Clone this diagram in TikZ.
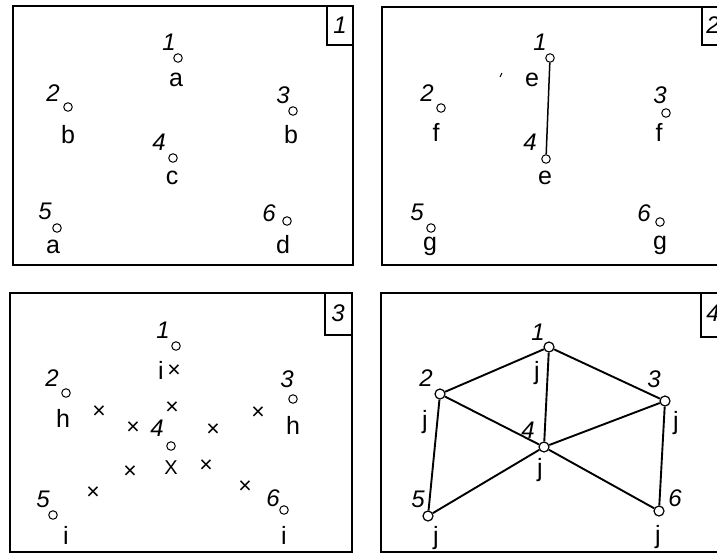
\documentclass[tikz,border=0pt]{standalone}
\usepackage{fontspec}
\setmainfont{Liberation Sans}
\newcommand\numfnt{\fontsize{24}{24}\selectfont\itshape}
\newcommand\lblfnt{\fontsize{25}{25}\selectfont}
\newcommand\crfnt{\fontsize{23}{23}\selectfont}
\tikzset{
  frame/.style={draw, line width=2.2pt},
  tagbox/.style={draw, line width=1.6pt},
  pt/.style={circle, draw, line width=1pt, inner sep=0pt, minimum size=8.5pt, fill=white},
  bigpt/.style={circle, draw, line width=1.2pt, inner sep=0pt, minimum size=10pt, fill=white},
  num/.style={inner sep=0pt, font=\numfnt},
  lbl/.style={inner sep=0pt, font=\lblfnt},
  cross/.style={inner sep=0pt, font=\crfnt},
  edge/.style={line width=1.9pt},
  thinedge/.style={line width=1.5pt}
}
\begin{document}
\begin{tikzpicture}[x=1pt,y=-1pt]
\useasboundingbox (0,0) rectangle (717,554);
\clip (0,0) rectangle (717,554);
\fill[white] (0,0) rectangle (717,554);

% ---------- Panel 1 ----------
\draw[frame] (13,6) rectangle (353,265);
\draw[tagbox] (327,6) rectangle (353,45);
\node[num] (t1) at (340,25) {1};
\node[pt] (a1) at (178,58) {};
\node[num] (a1n) at (169,42) {1};
\node[lbl] (a1l) at (176,80) {a};
\node[pt] (a2) at (68,107) {};
\node[num] (a2n) at (53,93) {2};
\node[lbl] (a2l) at (68,135) {b};
\node[pt] (a3) at (293,111) {};
\node[num] (a3n) at (283,95) {3};
\node[lbl] (a3l) at (291,135) {b};
\node[pt] (a4) at (173,158) {};
\node[num] (a4n) at (159,142) {4};
\node[lbl] (a4l) at (172,178) {c};
\node[pt] (a5) at (57,228) {};
\node[num] (a5n) at (45,211) {5};
\node[lbl] (a5l) at (53,247) {a};
\node[pt] (a6) at (287,221) {};
\node[num] (a6n) at (269,213) {6};
\node[lbl] (a6l) at (283,245) {d};

% ---------- Panel 2 ----------
\draw[frame] (382,7) rectangle (730,265);
\draw[tagbox] (702,7) rectangle (730,45);
\node[num] (t2) at (713,25) {2};
\node[pt] (b1) at (550,58) {};
\node[num] (b1n) at (540,42) {1};
\node[lbl] (b1l) at (532,80) {e};
\node[pt] (b4) at (546,159) {};
\node[num] (b4n) at (530,142) {4};
\node[lbl] (b4l) at (545,178) {e};
\draw[thinedge] (b1) -- (b4);
\coordinate (tk1) at (500,77);
\coordinate (tk2) at (502,73);
\draw[line width=1pt] (tk1) -- (tk2);
\node[pt] (b2) at (441,108) {};
\node[num] (b2n) at (427,93) {2};
\node[lbl] (b2l) at (436,132) {f};
\node[pt] (b3) at (666,113) {};
\node[num] (b3n) at (660,95) {3};
\node[lbl] (b3l) at (659,132) {f};
\node[pt] (b5) at (431,228) {};
\node[num] (b5n) at (417,212) {5};
\node[lbl] (b5l) at (430,246) {g};
\node[pt] (b6) at (660,222) {};
\node[num] (b6n) at (644,213) {6};
\node[lbl] (b6l) at (660,245) {g};

% ---------- Panel 3 ----------
\draw[frame] (10,293) rectangle (352,552);
\draw[tagbox] (325,293) rectangle (352,335);
\node[num] (t3) at (338,313) {3};
\node[pt] (c1) at (176,346) {};
\node[num] (c1n) at (163,330) {1};
\node[lbl] (c1l) at (161,370) {i};
\node[pt] (c2) at (66,393) {};
\node[num] (c2n) at (52,378) {2};
\node[lbl] (c2l) at (63,418) {h};
\node[pt] (c3) at (293,399) {};
\node[num] (c3n) at (287,379) {3};
\node[lbl] (c3l) at (293,425) {h};
\node[pt] (c4) at (171,446) {};
\node[num] (c4n) at (157,428) {4};
\node[pt] (c5) at (53,515) {};
\node[num] (c5n) at (43,499) {5};
\node[lbl] (c5l) at (66,535) {i};
\node[pt] (c6) at (284,510) {};
\node[num] (c6n) at (273,498) {6};
\node[lbl] (c6l) at (284,535) {i};
\node[cross] (x1) at (174,371) {×};
\node[cross] (x2) at (99,412) {×};
\node[cross] (x3) at (133,428) {×};
\node[cross] (x4) at (172,408) {×};
\node[cross] (x5) at (213,430) {×};
\node[cross] (x6) at (258,413) {×};
\node[cross] (x7) at (130,472) {×};
\node[lbl, font=\fontsize{20}{20}\selectfont] (x8) at (171,468) {X};
\node[cross] (x9) at (206,466) {×};
\node[cross] (x10) at (93,493) {×};
\node[cross] (x11) at (245,487) {×};

% ---------- Panel 4 ----------
\draw[frame] (381,293) rectangle (730,552);
\draw[tagbox] (701,293) rectangle (730,337);
\node[num] (t4) at (713,313) {4};
\node[bigpt] (d1) at (549,347) {};
\node[bigpt] (d2) at (440,394) {};
\node[bigpt] (d3) at (665,401) {};
\node[bigpt] (d4) at (544,447) {};
\node[bigpt] (d5) at (428,516) {};
\node[bigpt] (d6) at (659,511) {};
\draw[edge] (d1) -- (d2);
\draw[edge] (d1) -- (d3);
\draw[edge] (d1) -- (d4);
\draw[edge] (d2) -- (d4);
\draw[edge] (d4) -- (d6);
\draw[edge] (d3) -- (d4);
\draw[edge] (d4) -- (d5);
\draw[edge] (d2) -- (d5);
\draw[edge] (d3) -- (d6);
\node[num] (d1n) at (538,332) {1};
\node[lbl] (d1l) at (537,373) {j};
\node[num] (d2n) at (426,378) {2};
\node[lbl] (d2l) at (425,422) {j};
\node[num] (d3n) at (654,379) {3};
\node[lbl] (d3l) at (676,423) {j};
\node[num] (d4n) at (528,430) {4};
\node[lbl] (d4l) at (540,470) {j};
\node[num] (d5n) at (418,499) {5};
\node[lbl] (d5l) at (436,538) {j};
\node[num] (d6n) at (675,498) {6};
\node[lbl] (d6l) at (658,537) {j};
\end{tikzpicture}
\end{document}
